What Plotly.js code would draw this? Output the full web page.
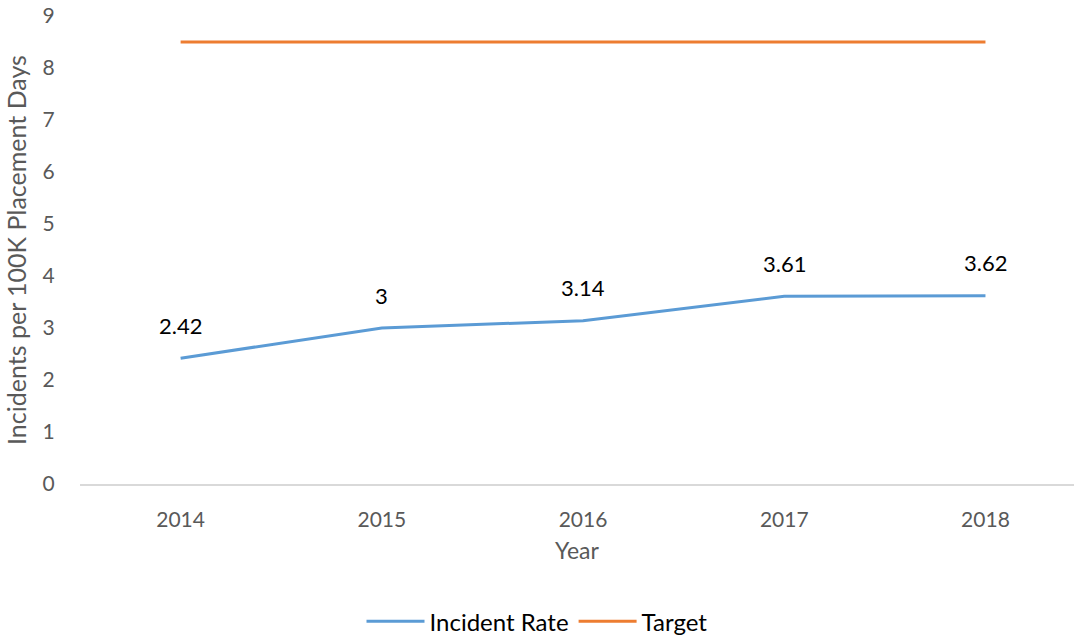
<!DOCTYPE html>
<html>
<head>
<meta charset="utf-8">
<script src="https://cdn.plot.ly/plotly-3.0.1.min.js"></script>
<style>
  html, body { margin: 0; padding: 0; background: #fff; }
  #chart { width: 1074px; height: 639px; }
</style>
</head>
<body>
<div id="chart"></div>
<script>
// Données du graphique
const years = ['2014', '2015', '2016', '2017', '2018'];
const incidentRate = [2.42, 3, 3.14, 3.61, 3.62];
const target = [8.5, 8.5, 8.5, 8.5, 8.5];
const rateLabels = ['2.42', '3', '3.14', '3.61', '3.62'];

const FONT = 'Lato, "Open Sans", sans-serif';

const traces = [
    {
        x: years,
        y: incidentRate,
        name: 'Incident Rate',
        mode: 'lines',
        type: 'scatter',
        line: { color: '#5B9BD5', width: 3 }
    },
    {
        x: years,
        y: target,
        name: 'Target',
        mode: 'lines',
        type: 'scatter',
        line: { color: '#ED7D31', width: 3 }
    }
];

// Étiquettes de valeurs au-dessus de la courbe (x = index de catégorie)
const annotations = years.map((yr, i) => ({
    x: i,
    y: incidentRate[i],
    text: rateLabels[i],
    showarrow: false,
    yshift: 33,
    font: { family: FONT, size: 22, color: '#000000' }
}));

const layout = {
    width: 1074,
    height: 639,
    margin: { l: 80, r: 0, t: 16, b: 155, autoexpand: false },
    paper_bgcolor: '#ffffff',
    plot_bgcolor: '#ffffff',
    font: { family: FONT, color: '#595959' },
    showlegend: true,
    legend: {
        orientation: 'h',
        x: 0.5,
        xanchor: 'center',
        xref: 'container',
        y: 0.027,
        yanchor: 'middle',
        yref: 'container',
        font: { family: FONT, size: 24, color: '#000000' },
        itemwidth: 58,
        tracegroupgap: 0
    },
    xaxis: {
        type: 'category',
        range: [-0.5, 4.44],
        automargin: false,
        showgrid: false,
        zeroline: false,
        showline: true,
        linecolor: '#D9D9D9',
        linewidth: 2,
        ticks: 'outside',
        ticklen: 16,
        tickcolor: 'rgba(0,0,0,0)',
        tickfont: { family: FONT, size: 21, color: '#595959' },
        title: {
            text: 'Year',
            standoff: 13,
            font: { family: FONT, size: 23, color: '#595959' }
        }
    },
    yaxis: {
        range: [0, 9],
        dtick: 1,
        automargin: false,
        showgrid: false,
        zeroline: false,
        showline: false,
        ticks: 'outside',
        ticklen: 20,
        tickcolor: 'rgba(0,0,0,0)',
        tickfont: { family: FONT, size: 21, color: '#595959' },
        title: {
            text: 'Incidents per 100K Placement Days',
            standoff: 8,
            font: { family: FONT, size: 25, color: '#595959' }
        }
    },
    annotations: annotations
};

Plotly.newPlot('chart', traces, layout, { displayModeBar: false, staticPlot: true });
</script>
</body>
</html>
